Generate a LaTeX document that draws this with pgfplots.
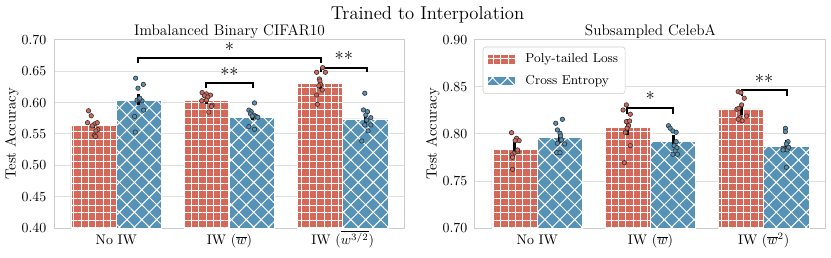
\documentclass[border=0pt]{standalone}
\usepackage{pgfplots}
\pgfplotsset{compat=1.18}
\usetikzlibrary{patterns.meta}
\definecolor{redc}{RGB}{214,104,90}
\definecolor{bluec}{RGB}{86,146,181}
\pgfplotsset{
  panel/.style={
    scale only axis, width=252.7pt, height=135.4pt,
    xmin=-0.55, xmax=2.55, xtick={0,1,2},
    axis line style={draw=gray!40, line width=0.7pt},
    major tick length=0pt,
    ymajorgrids, grid style={gray!25, line width=0.7pt},
    tick label style={font=\fontsize{10}{12}\selectfont},
    scaled y ticks=false,
    yticklabel style={/pgf/number format/fixed, /pgf/number format/fixed zerofill, /pgf/number format/precision=2, xshift=-2pt},
    xticklabel style={anchor=base, yshift=-12.2pt},
    ylabel={Test Accuracy},
    ylabel style={at={(axis description cs:-0.1096,0.5)}, anchor=base, font=\fontsize{10.6}{12}\selectfont},
    title style={font=\fontsize{11}{12}\selectfont, at={(0.5,1)}, anchor=base, yshift=-3.1pt},
  },
  redbar/.style={ybar, bar width=0.4, bar shift=0pt, fill=redc, draw=white, line width=0.6pt,
    postaction={pattern={Hatch[angle=0,distance=5.3pt,line width=0.55pt]}, pattern color=white},
    legend image code/.code={\draw[##1, rounded corners=0pt] (0pt,-3.3pt) rectangle (20pt,3.3pt);}},
  bluebar/.style={ybar, bar width=0.4, bar shift=0pt, fill=bluec, draw=white, line width=0.6pt,
    postaction={pattern={Hatch[angle=45,distance=7.6pt,line width=0.7pt]}, pattern color=white},
    legend image code/.code={\draw[##1, rounded corners=0pt] (0pt,-3.3pt) rectangle (20pt,3.3pt);}},
  ci/.style={black, line width=2.2pt, forget plot},
  redpts/.style={only marks, mark=*, mark size=1.6pt, mark options={fill=redc, draw=black!80, line width=0.45pt}, forget plot},
  bluepts/.style={only marks, mark=*, mark size=1.6pt, mark options={fill=bluec, draw=black!80, line width=0.45pt}, forget plot},
  brk/.style={black, line width=1.4pt, forget plot},
}
\begin{document}
\begin{tikzpicture}
\begin{axis}[panel, ymin=0.40, ymax=0.70, ytick={0.40,0.45,0.50,0.55,0.60,0.65,0.70},
  title={Imbalanced Binary CIFAR10},
  xticklabels={No IW, IW ($\overline{w}$), IW ($\overline{w^{3/2}}$)}]
\addplot[redbar] coordinates {(-0.2,0.563) (0.8,0.604) (1.8,0.630)};
\addplot[bluebar] coordinates {(0.2,0.604) (1.2,0.577) (2.2,0.574)};
\addplot[ci] coordinates {(-0.2,0.559) (-0.2,0.568)};
\addplot[ci] coordinates {(0.2,0.597) (0.2,0.614)};
\addplot[ci] coordinates {(0.8,0.598) (0.8,0.611)};
\addplot[ci] coordinates {(1.2,0.572) (1.2,0.584)};
\addplot[ci] coordinates {(1.8,0.621) (1.8,0.640)};
\addplot[ci] coordinates {(2.2,0.564) (2.2,0.584)};
\addplot[redpts] coordinates {(-0.245,0.587) (-0.221,0.579) (-0.254,0.568) (-0.191,0.566) (-0.168,0.568) (-0.212,0.563) (-0.163,0.557) (-0.180,0.555) (-0.192,0.548) (-0.183,0.546)
 (0.758,0.616) (0.796,0.614) (0.832,0.612) (0.779,0.611) (0.808,0.609) (0.755,0.603) (0.796,0.604) (0.847,0.596) (0.841,0.594) (0.817,0.585)
 (1.823,0.6558) (1.770,0.6484) (1.847,0.6484) (1.794,0.6378) (1.799,0.6346) (1.805,0.6293) (1.820,0.6202) (1.770,0.6122) (1.776,0.5974) (1.788,0.627)};
\addplot[bluepts] coordinates {(0.171,0.639) (0.239,0.629) (0.192,0.623) (0.183,0.604) (0.227,0.603) (0.204,0.605) (0.242,0.588) (0.162,0.578) (0.168,0.553) (0.208,0.607)
 (1.221,0.5995) (1.171,0.588) (1.192,0.5856) (1.186,0.582) (1.215,0.580) (1.239,0.5776) (1.250,0.5766) (1.201,0.5787) (1.171,0.5617) (1.221,0.5575)
 (2.195,0.615) (2.183,0.5883) (2.219,0.5856) (2.204,0.5803) (2.248,0.576) (2.212,0.5723) (2.195,0.5644) (2.248,0.5644) (2.224,0.5548) (2.168,0.5388)};
\addplot[brk] coordinates {(0.192,0.663) (0.192,0.671) (1.81,0.671) (1.81,0.663)};
\addplot[brk] coordinates {(0.796,0.623) (0.796,0.631) (1.206,0.631) (1.206,0.623)};
\addplot[brk] coordinates {(1.81,0.649) (1.81,0.656) (2.212,0.656) (2.212,0.649)};
\node[anchor=base, font=\fontsize{13.5}{15}\selectfont] at (axis cs:1.0,0.673) {*};
\node[anchor=base, font=\fontsize{13.5}{15}\selectfont] at (axis cs:1.0,0.6334) {**};
\node[anchor=base, font=\fontsize{13.5}{15}\selectfont] at (axis cs:2.01,0.6585) {**};
\end{axis}
\begin{axis}[panel, at={(303.1pt,0pt)}, ymin=0.70, ymax=0.90, ytick={0.70,0.75,0.80,0.85,0.90},
  title={Subsampled CelebA},
  xticklabels={No IW, IW ($\overline{w}$), IW ($\overline{w}^2$)},
  legend style={at={(axis description cs:0.022,0.964)}, anchor=north west, draw=gray!40, rounded corners=2pt, fill=white,
    font=\fontsize{9.3}{10}\selectfont, row sep=3.5pt, inner xsep=3pt, inner ysep=3pt,
    /tikz/every odd column/.append style={column sep=5pt}},
  legend cell align=left]
\addplot[redbar] coordinates {(-0.2,0.784) (0.8,0.807) (1.8,0.8266)};
\addlegendentry{Poly-tailed Loss}
\addplot[bluebar] coordinates {(0.2,0.796) (1.2,0.7925) (2.2,0.7865)};
\addlegendentry{Cross Entropy}
\addplot[ci] coordinates {(-0.2,0.778) (-0.2,0.791)};
\addplot[ci] coordinates {(0.2,0.790) (0.2,0.803)};
\addplot[ci] coordinates {(0.8,0.799) (0.8,0.816)};
\addplot[ci] coordinates {(1.2,0.786) (1.2,0.799)};
\addplot[ci] coordinates {(1.8,0.820) (1.8,0.833)};
\addplot[ci] coordinates {(2.2,0.781) (2.2,0.794)};
\addplot[redpts] coordinates {(-0.227,0.8014) (-0.183,0.7954) (-0.160,0.7929) (-0.195,0.7929) (-0.204,0.7795) (-0.224,0.7777) (-0.218,0.7752) (-0.172,0.7812) (-0.174,0.783) (-0.218,0.7624)
 (0.787,0.8309) (0.758,0.8255) (0.822,0.821) (0.787,0.8131) (0.816,0.8138) (0.807,0.8088) (0.793,0.8061) (0.778,0.8018) (0.822,0.7876) (0.770,0.7695)
 (1.775,0.845) (1.799,0.844) (1.828,0.838) (1.805,0.8309) (1.763,0.8263) (1.781,0.8273) (1.849,0.8191) (1.790,0.8173) (1.810,0.8141) (1.775,0.8156)};
\addplot[bluepts] coordinates {(0.222,0.8156) (0.163,0.8114) (0.178,0.8043) (0.201,0.8007) (0.207,0.7979) (0.213,0.7936) (0.178,0.7901) (0.242,0.7894) (0.172,0.7801) (0.201,0.7801)
 (1.159,0.8088) (1.174,0.8061) (1.198,0.8032) (1.227,0.8018) (1.227,0.7918) (1.209,0.7876) (1.233,0.7854) (1.218,0.7819) (1.198,0.7784) (1.238,0.7784)
 (2.192,0.806) (2.192,0.8025) (2.215,0.7918) (2.200,0.7894) (2.171,0.7848) (2.186,0.7837) (2.209,0.783) (2.171,0.783) (2.221,0.7858) (2.200,0.7646)};
\addplot[brk] coordinates {(0.793,0.8213) (0.793,0.8273) (1.203,0.8273) (1.203,0.8213)};
\addplot[brk] coordinates {(1.805,0.8407) (1.805,0.8468) (2.209,0.8468) (2.209,0.8407)};
\node[anchor=base, font=\fontsize{13.5}{15}\selectfont] at (axis cs:0.998,0.8298) {*};
\node[anchor=base, font=\fontsize{13.5}{15}\selectfont] at (axis cs:2.004,0.8486) {**};
\end{axis}
\node[anchor=base, font=\fontsize{13.4}{16}\selectfont] at (268.9pt,149.8pt) {Trained to Interpolation};
\pgfresetboundingbox
\path[use as bounding box] (-38.88pt,-20.88pt) rectangle (559.44pt,164.16pt);
\end{tikzpicture}
\end{document}
